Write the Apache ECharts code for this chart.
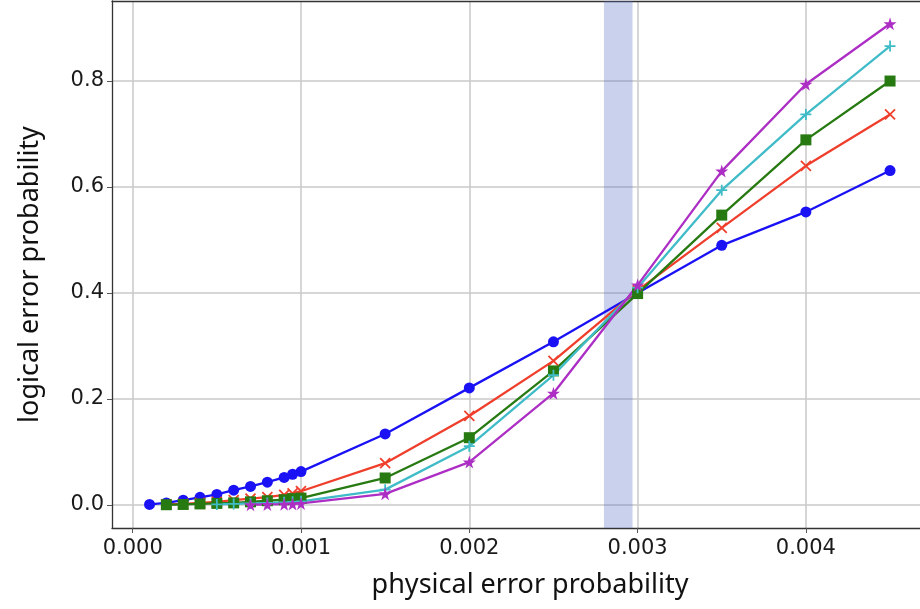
<!DOCTYPE html>
<html><head><meta charset="utf-8">
<script src="https://cdn.jsdelivr.net/npm/echarts@6/dist/echarts.min.js"></script>
<style>html,body{margin:0;padding:0;background:#fff}#c{width:920px;height:609px}</style>
</head><body><div id="c"></div>
<script>
const xTicks = [0, 0.001, 0.002, 0.003, 0.004];
const yTicks = [0, 0.2, 0.4, 0.6, 0.8];
const band = [0.0028, 0.00297];

const blueX = [0.0001,0.0002,0.0003,0.0004,0.0005,0.0006,0.0007,0.0008,0.0009,0.00095,0.001,0.0015,0.002,0.0025,0.003,0.0035,0.004,0.0045];
const blueY = [0.001,0.004,0.009,0.0145,0.02,0.028,0.035,0.043,0.052,0.058,0.063,0.134,0.221,0.308,0.400,0.490,0.553,0.631];
const redX = [0.0002,0.0003,0.0004,0.0005,0.0006,0.0007,0.0008,0.0009,0.00095,0.001,0.0015,0.002,0.0025,0.003,0.0035,0.004,0.0045];
const redY = [0.001,0.002,0.004,0.006,0.009,0.012,0.015,0.019,0.022,0.026,0.079,0.168,0.272,0.405,0.523,0.640,0.737];
const greenX = [0.0002,0.0003,0.0004,0.0005,0.0006,0.0007,0.0008,0.0009,0.00095,0.001,0.0015,0.002,0.0025,0.003,0.0035,0.004,0.0045];
const greenY = [0.0005,0.001,0.002,0.003,0.004,0.006,0.008,0.010,0.012,0.013,0.051,0.127,0.253,0.399,0.547,0.689,0.800];
const cyanX = [0.0005,0.0006,0.0007,0.0008,0.0009,0.00095,0.001,0.0015,0.002,0.0025,0.003,0.0035,0.004,0.0045];
const cyanY = [0.001,0.002,0.003,0.004,0.005,0.006,0.007,0.029,0.111,0.245,0.410,0.594,0.737,0.866];
const purpleX = [0.0007,0.0008,0.0009,0.00095,0.001,0.0015,0.002,0.0025,0.003,0.0035,0.004,0.0045];
const purpleY = [0.0005,0.001,0.0015,0.002,0.003,0.021,0.081,0.211,0.415,0.630,0.794,0.908];

const zip = (xs, ys) => xs.map((x, i) => [x, ys[i]]);
const STAR = 'path://M50,0L61,35L98,35L68,57L79,91L50,70L21,91L32,57L2,35L39,35Z';
const XMARK = 'path://M0,0L10,10M10,0L0,10';
const PLUS = 'path://M5,0L5,10M0,5L10,5';

function mk(name, xs, ys, color, symbol, size, stroke) {
  return {
    name, type: 'line', data: zip(xs, ys), symbol, symbolSize: size,
    showSymbol: true, animation: false,
    lineStyle: { color, width: 2.3 },
    itemStyle: { color: stroke ? 'rgba(0,0,0,0)' : color, borderColor: color, borderWidth: stroke ? 1.8 : 0 },
    emphasis: { disabled: true }
  };
}

const chart = echarts.init(document.getElementById('c'), null, { renderer: 'canvas' });
const tickFont = { fontFamily: 'DejaVu Sans', fontSize: 21, color: '#1a1a1a' };
const series = [
  {
    type: 'line', data: [], silent: true, animation: false, z: 1,
    markArea: { silent: true, itemStyle: { color: 'rgba(75,102,192,0.3)' }, data: [[{ xAxis: band[0] }, { xAxis: band[1] }]] }
  },
  mk('blue', blueX, blueY, '#1a12f5', 'circle', 11, false),
  mk('red', redX, redY, '#ef3f2c', XMARK, 10, true),
  mk('green', greenX, greenY, '#277a12', 'rect', 11, false),
  mk('cyan', cyanX, cyanY, '#3fbcc8', PLUS, 11, true),
  mk('purple', purpleX, purpleY, '#ad2ec4', STAR, 13, false)
];

chart.setOption({
  backgroundColor: '#fff',
  animation: false,
  grid: { left: 112, top: 1, right: 0, bottom: 81, show: false },
  xAxis: [{
    type: 'value', min: -0.000123, max: 0.004678,
    name: 'physical error probability', nameLocation: 'middle', nameGap: 44,
    nameTextStyle: { fontFamily: 'Noto Sans', fontSize: 27, color: '#111', padding: [0, 0, 0, 28] },
    axisLine: { show: true, onZero: false, lineStyle: { color: '#333', width: 1.3 } },
    axisTick: { show: true, length: 5, lineStyle: { color: '#555' }, customValues: xTicks },
    axisLabel: Object.assign({ customValues: xTicks, margin: 10, formatter: v => v.toFixed(3) }, tickFont),
    splitLine: { show: true, lineStyle: { color: '#c8c8c8', width: 1.5 } }
  }, {
    type: 'value', position: 'top', min: -0.000123, max: 0.004678,
    axisLine: { show: true, onZero: false, lineStyle: { color: '#333', width: 1.3 } },
    axisTick: { show: false }, axisLabel: { show: false }, splitLine: { show: false }
  }],
  yAxis: {
    type: 'value', min: -0.0434, max: 0.951,
    name: 'logical error probability', nameLocation: 'middle', nameGap: 68,
    nameTextStyle: { fontFamily: 'Noto Sans', fontSize: 27, color: '#111', padding: [0, 20, 0, 0] },
    axisLine: { show: true, onZero: false, lineStyle: { color: '#333', width: 1.3 } },
    axisTick: { show: true, length: 5, lineStyle: { color: '#555' }, customValues: yTicks },
    axisLabel: Object.assign({ customValues: yTicks, margin: 8, formatter: v => v.toFixed(1) }, tickFont),
    splitLine: { show: true, lineStyle: { color: '#c8c8c8', width: 1.5 } }
  },
  series
});
</script></body></html>
